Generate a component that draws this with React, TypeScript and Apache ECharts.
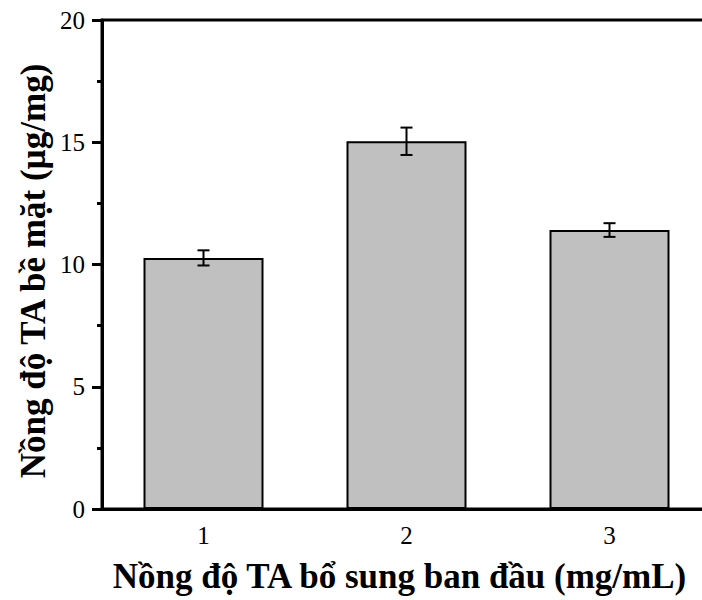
import React, { useEffect, useRef } from "react";
import * as echarts from "echarts";

const categories = ["1", "2", "3"];
const means = [10.27, 15.04, 11.41];
const errors = [0.31, 0.56, 0.28];
const yTicks = { min: 0, max: 20, interval: 5 };
const xTitle = "Nồng độ TA bổ sung ban đầu (mg/mL)";
const yTitle = "Nồng độ TA bề mặt (µg/mg)";

const SERIF = '"Liberation Serif", "Times New Roman", serif';

export default function App() {
  const ref = useRef<HTMLDivElement>(null);
  useEffect(() => {
    if (!ref.current) return;
    const chart = echarts.init(ref.current, undefined, { renderer: "svg" });
    const option: any = {
      animation: false,
      backgroundColor: "#ffffff",
      grid: {
        left: 102,
        top: 20,
        width: 609,
        height: 489,
        outerBoundsMode: "none",
        containLabel: false,
        show: true,
        borderColor: "#000",
        borderWidth: 3,
        backgroundColor: "transparent",
      },
      xAxis: {
        type: "category",
        data: categories,
        axisLine: { lineStyle: { color: "#000", width: 3 } },
        axisTick: { alignWithLabel: true, length: 11, lineStyle: { color: "#000", width: 3 } },
        axisLabel: { color: "#000", fontFamily: SERIF, fontSize: 25, margin: 14 },
        splitLine: { show: false },
      },
      yAxis: {
        type: "value",
        min: yTicks.min,
        max: yTicks.max,
        interval: yTicks.interval,
        axisLine: { show: true, lineStyle: { color: "#000", width: 3 } },
        axisTick: { show: true, length: 10, lineStyle: { color: "#000", width: 3 } },
        minorTick: { show: true, splitNumber: 2, length: 5, lineStyle: { color: "#000", width: 3 } },
        axisLabel: { color: "#000", fontFamily: SERIF, fontSize: 25, margin: 17 },
        splitLine: { show: false },
        minorSplitLine: { show: false },
      },
      series: [
        {
          type: "bar",
          data: means,
          barWidth: 120,
          itemStyle: { color: "#c0c0c0", borderColor: "#000", borderWidth: 2 },
          z: 2,
        },
        {
          type: "custom",
          data: categories.map((_, i) => [i, means[i], errors[i]]),
          encode: { x: 0, y: 1 },
          z: 5,
          renderItem: (params: any, api: any) => {
            const x = api.value(0);
            const m = api.value(1);
            const e = api.value(2);
            const top = api.coord([x, m + e]);
            const bot = api.coord([x, m - e]);
            const hw = 6;
            const st = { stroke: "#000", lineWidth: 2 };
            return {
              type: "group",
              children: [
                { type: "line", shape: { x1: top[0], y1: top[1], x2: bot[0], y2: bot[1] }, style: st },
                { type: "line", shape: { x1: top[0] - hw, y1: top[1], x2: top[0] + hw, y2: top[1] }, style: st },
                { type: "line", shape: { x1: bot[0] - hw, y1: bot[1], x2: bot[0] + hw, y2: bot[1] }, style: st },
              ],
            };
          },
        },
      ],
      graphic: [
        {
          type: "text",
          x: 399.5,
          y: 576,
          style: {
            text: xTitle,
            font: `bold 35px ${SERIF}`,
            fill: "#000",
            align: "center",
            verticalAlign: "middle",
          },
        },
        {
          type: "text",
          x: 33,
          y: 271,
          rotation: Math.PI / 2,
          style: {
            text: yTitle,
            font: `bold 35px ${SERIF}`,
            fill: "#000",
            align: "center",
            verticalAlign: "middle",
          },
        },
      ],
    };
    chart.setOption(option);
    return () => chart.dispose();
  }, []);
  return (
    <div
      ref={ref}
      style={{ position: "fixed", left: 0, top: 0, width: 702, height: 600, background: "#fff" }}
    />
  );
}
